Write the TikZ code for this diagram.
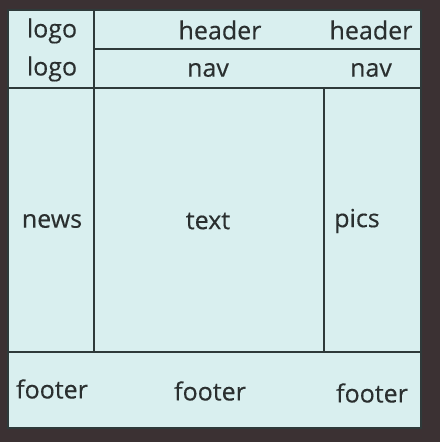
\documentclass[tikz,border=0pt]{standalone}
\usepackage{fontspec}
\setmainfont{Open Sans}
\newfontfamily\lblfont{Open Sans}[FakeBold=0.35]
\definecolor{bgdark}{HTML}{3B3133}
\definecolor{panel}{HTML}{D9EFEF}
\definecolor{rule}{HTML}{2E3A3A}
\definecolor{ink}{HTML}{2A2F2F}
\begin{document}
\begin{tikzpicture}[x=1pt,y=-1pt,
  lbl/.style={text=ink,font=\lblfont\fontsize{25}{27}\selectfont,inner sep=0pt,anchor=center},
  divider/.style={draw=rule,line width=1.4pt}]
\fill[bgdark] (0,0) rectangle (440,442);
\useasboundingbox (0,0) rectangle (440,442);
\fill[panel] (8,10) rectangle (421,428);
\draw[divider] (8,10) rectangle (421,428);
% dividers
\draw[divider] (94,10) -- (94,352);
\draw[divider] (94,49) -- (421,49);
\draw[divider] (8,88) -- (421,88);
\draw[divider] (324,88) -- (324,352);
\draw[divider] (8,352) -- (421,352);
% labels
\node[lbl] (logo1) at (52,31) {logo};
\node[lbl] (logo2) at (52,69) {logo};
\node[lbl] (head1) at (220,30) {header};
\node[lbl] (head2) at (371,30) {header};
\node[lbl] (nav1) at (208,70) {nav};
\node[lbl] (nav2) at (371,70) {nav};
\node[lbl] (news) at (52,221) {news};
\node[lbl] (text) at (208,221) {text};
\node[lbl] (pics) at (357,221) {pics};
\node[lbl] (foot1) at (52,389) {footer};
\node[lbl] (foot2) at (210,391) {footer};
\node[lbl] (foot3) at (372,393) {footer};
\end{tikzpicture}
\end{document}
